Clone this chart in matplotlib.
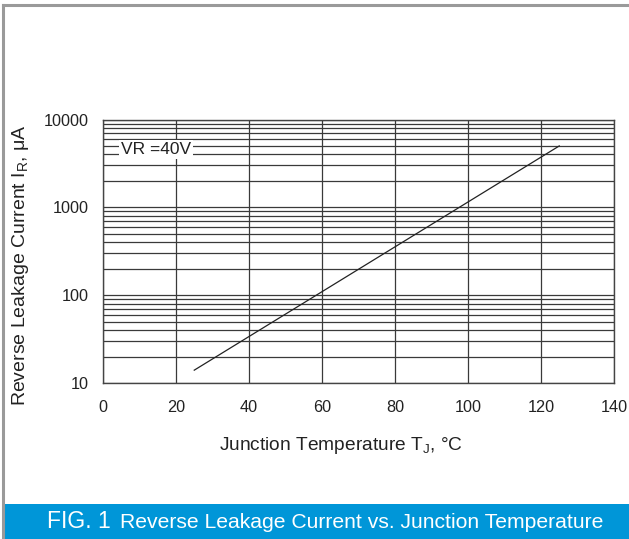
import matplotlib
matplotlib.use("Agg")
import matplotlib.pyplot as plt
from matplotlib.patches import Rectangle
from matplotlib.lines import Line2D

plt.rcParams['font.family'] = ['Liberation Sans', 'DejaVu Sans']
plt.rcParams['mathtext.fontset'] = 'custom'
plt.rcParams['mathtext.rm'] = 'Liberation Sans'
plt.rcParams['mathtext.it'] = 'Liberation Sans'

# Data
temp = [25, 125]
current = [14, 5000]
x_ticks = [0, 20, 40, 60, 80, 100, 120, 140]
y_ticks = [10, 100, 1000, 10000]
y_tick_labels = ["10", "100", "1000", "10000"]
annotation = "VR =40V"
x_label = r"Junction Temperature T$_{\mathrm{J}}$, °C"
y_label = r"Reverse Leakage Current I$_{\mathrm{R}}$, μA"
title_fig = "FIG. 1"
title_rest = "Reverse Leakage Current vs. Junction Temperature"

W, H = 629, 539
fig = plt.figure(figsize=(W / 100, H / 100), dpi=100)
fig.patch.set_facecolor('white')

# outer border (top and left)
fig.add_artist(Line2D([3 / W, 3 / W], [0, 1 - 5 / H], transform=fig.transFigure,
                      color='#9a9a9a', lw=2.2))
fig.add_artist(Line2D([3 / W, 1], [1 - 5 / H, 1 - 5 / H], transform=fig.transFigure,
                      color='#9a9a9a', lw=2.2))

# banner
fig.add_artist(Rectangle((4 / W, 0), 1, 35 / H, transform=fig.transFigure,
                         facecolor='#0096d8', edgecolor='none'))
fig.text(47 / W, 17 / H, title_fig, color='white', fontsize=16.5,
         ha='left', va='center')
fig.text(120 / W, 17 / H, title_rest, color='white', fontsize=15.2,
         ha='left', va='center')

ax = fig.add_axes([103 / W, 1 - 383 / H, (614 - 103) / W, (383 - 119.5) / H])
ax.set_yscale('log')
ax.set_xlim(0, 140)
ax.set_ylim(10, 10000)

# grid
ax.set_xticks(x_ticks)
ax.set_yticks(y_ticks)
ax.set_yticklabels(y_tick_labels)
ax.set_xticklabels([str(v) for v in x_ticks])
ax.tick_params(axis='both', which='both', length=0, labelsize=11.7, colors='#222222')
ax.tick_params(axis='x', pad=12.5)
ax.tick_params(axis='y', pad=10)
ax.grid(True, which='major', color='#3a3a3a', lw=0.9)
ax.grid(True, which='minor', axis='y', color='#3a3a3a', lw=0.9)
for s in ax.spines.values():
    s.set_color('#444444')
    s.set_linewidth(1.0)

ax.plot(temp, current, color='#222222', lw=0.9, zorder=3)

ax.text(5.0, 4570, annotation, fontsize=12.5, color='#222222', va='center', ha='left',
        zorder=4, bbox=dict(facecolor='white', edgecolor='none', pad=1.5))

fig.text(341 / W, 1 - 446 / H, x_label, fontsize=13.8, color='#222222',
         ha='center', va='center')
fig.text(21 / W, 1 - 265 / H, y_label, fontsize=14, color='#222222',
         ha='center', va='center', rotation=90)

fig.savefig("out.png", dpi=100)
